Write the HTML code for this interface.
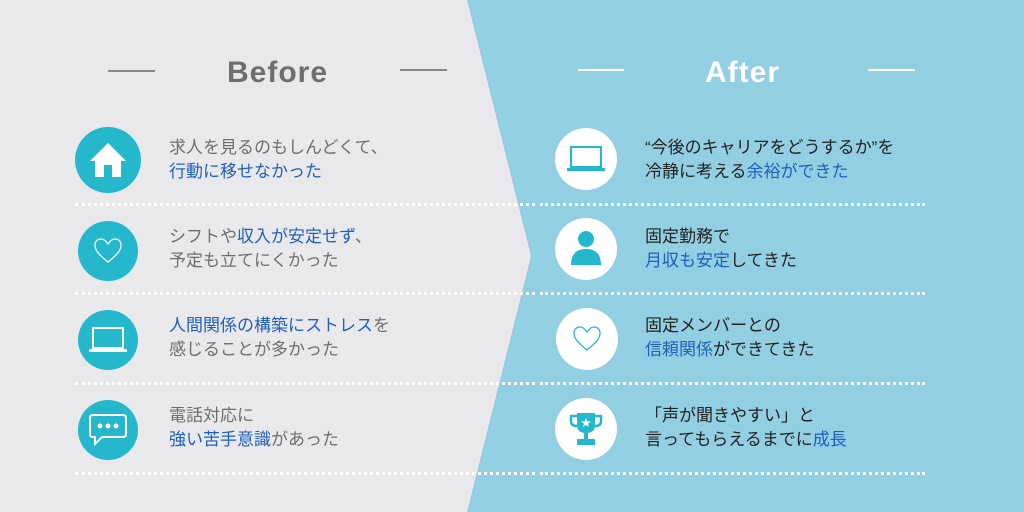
<!DOCTYPE html>
<html><head><meta charset="utf-8"><style>
*{margin:0;padding:0;box-sizing:border-box}
body{width:1024px;height:512px;overflow:hidden;position:relative;background:#93cfe2;font-family:"Liberation Sans","Noto Sans CJK JP",sans-serif}
.t{position:absolute;font-size:17px;line-height:24px;color:#6e6e6e;white-space:nowrap}
.r{color:#222}
.b{color:#1f5fbf}
.c{position:absolute;width:66px;height:66px;border-radius:50%;display:flex;align-items:center;justify-content:center}
.cl{background:#25b8cd}.cr{background:#fff}
.d{position:absolute;height:0;border-top:3px dotted #fff}
.h{position:absolute;font-weight:bold;font-size:30px;letter-spacing:1px}
.ln{position:absolute;height:2px}
</style></head><body>
<svg style="position:absolute;left:0;top:0" width="1024" height="512"><polygon points="0,0 467,0 531,256 467,512 0,512" fill="#e9e9ec"/></svg>
<div class="ln" style="left:108px;top:70px;width:47px;background:#888"></div>
<div class="ln" style="left:400px;top:69px;width:47px;background:#888"></div>
<div class="h" style="left:227px;top:56px;color:#6e6e6e">Before</div>
<div class="ln" style="left:578px;top:69px;width:46px;background:#fff"></div>
<div class="ln" style="left:868px;top:69px;width:47px;background:#fff"></div>
<div class="h" style="left:705px;top:56px;color:#fff">After</div>

<div class="d" style="left:75px;top:203px;width:460px"></div>
<div class="d" style="left:75px;top:292px;width:460px"></div>
<div class="d" style="left:75px;top:382px;width:460px"></div>
<div class="d" style="left:75px;top:472px;width:460px"></div>
<div class="d" style="left:540px;top:203px;width:385px"></div>
<div class="d" style="left:540px;top:292px;width:385px"></div>
<div class="d" style="left:540px;top:382px;width:385px"></div>
<div class="d" style="left:540px;top:472px;width:385px"></div>

<div class="c cl" style="left:75px;top:127px"><svg width="40" height="40" viewBox="0 0 40 40"><polygon points="20,3 38,21 33,21 33,37 24,37 24,25 16,25 16,37 7,37 7,21 2,21" fill="#fff"/></svg></div>
<div class="c cl" style="left:78px;top:221px;width:60px;height:60px"><svg width="30" height="30" viewBox="0 0 30 30"><path d="M15 26 C5 18 2 14 2 9 C2 5 5 3 8 3 C11 3 13 5 15 8 C17 5 19 3 22 3 C25 3 28 5 28 9 C28 14 25 18 15 26Z" fill="none" stroke="#fff" stroke-width="1.3"/></svg></div>
<div class="c cl" style="left:78px;top:310px;width:60px;height:60px"><svg width="40" height="30" viewBox="0 0 40 30"><rect x="5" y="3" width="30" height="20" fill="none" stroke="#fff" stroke-width="2"/><rect x="1" y="24" width="38" height="3" fill="#fff"/></svg></div>
<div class="c cl" style="left:78px;top:400px;width:60px;height:60px"><svg width="40" height="36" viewBox="0 0 40 36"><path d="M5 3 H35 Q38 3 38 6 V22 Q38 25 35 25 H14 L7 32 V25 H5 Q2 25 2 22 V6 Q2 3 5 3Z" fill="none" stroke="#fff" stroke-width="2"/><circle cx="12" cy="14" r="2.5" fill="#fff"/><circle cx="20" cy="14" r="2.5" fill="#fff"/><circle cx="28" cy="14" r="2.5" fill="#fff"/></svg></div>

<div class="c cr" style="left:555px;top:128px;width:62px;height:62px"><svg width="40" height="30" viewBox="0 0 40 30"><rect x="5" y="3" width="30" height="20" fill="none" stroke="#25b8cd" stroke-width="2"/><rect x="1" y="24" width="38" height="3" fill="#25b8cd"/></svg></div>
<div class="c cr" style="left:555px;top:218px;width:62px;height:62px"><svg width="34" height="40" viewBox="0 0 34 40"><circle cx="17" cy="10" r="8" fill="#25b8cd"/><path d="M2 36 Q2 20 17 20 Q32 20 32 36 Z" fill="#25b8cd"/></svg></div>
<div class="c cr" style="left:556px;top:308px;width:62px;height:62px"><svg width="32" height="30" viewBox="0 0 30 30"><path d="M15 26 C5 18 2 14 2 9 C2 5 5 3 8 3 C11 3 13 5 15 8 C17 5 19 3 22 3 C25 3 28 5 28 9 C28 14 25 18 15 26Z" fill="none" stroke="#25b8cd" stroke-width="1.3"/></svg></div>
<div class="c cr" style="left:555px;top:398px;width:62px;height:62px"><svg width="34" height="36" viewBox="0 0 34 36"><path d="M8 2 H26 V14 Q26 22 17 22 Q8 22 8 14Z" fill="#25b8cd"/><path d="M8 5 H2 V10 Q2 15 8 15 M26 5 H32 V10 Q32 15 26 15" fill="none" stroke="#25b8cd" stroke-width="2.5"/><rect x="15" y="21" width="4" height="7" fill="#25b8cd"/><rect x="8" y="28" width="18" height="6" fill="#25b8cd"/><polygon points="17,7 18.3,10.5 22,10.5 19,12.7 20,16 17,14 14,16 15,12.7 12,10.5 15.7,10.5" fill="#fff"/></svg></div>

<div class="t" style="left:169px;top:136px">求人を見るのもしんどくて、<br><span class="b">行動に移せなかった</span></div>
<div class="t" style="left:169px;top:225px">シフトや<span class="b">収入が安定せず</span>、<br>予定も立てにくかった</div>
<div class="t" style="left:169px;top:314px"><span class="b">人間関係の構築にストレス</span>を<br>感じることが多かった</div>
<div class="t" style="left:169px;top:404px">電話対応に<br><span class="b">強い苦手意識</span>があった</div>

<div class="t r" style="left:645px;top:136px">“今後のキャリアをどうするか”を<br>冷静に考える<span class="b">余裕ができた</span></div>
<div class="t r" style="left:645px;top:225px">固定勤務で<br><span class="b">月収も安定</span>してきた</div>
<div class="t r" style="left:645px;top:314px">固定メンバーとの<br><span class="b">信頼関係</span>ができてきた</div>
<div class="t r" style="left:645px;top:404px">「声が聞きやすい」と<br>言ってもらえるまでに<span class="b">成長</span></div>
</body></html>
